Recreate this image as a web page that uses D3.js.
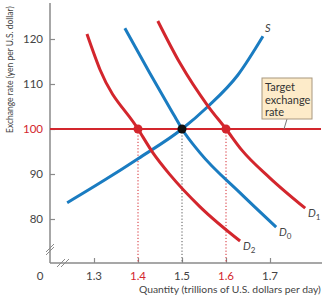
<!DOCTYPE html>
<html><head><meta charset="utf-8">
<script src="https://cdn.jsdelivr.net/npm/d3@7"></script>
<style>body{margin:0;background:#fff}svg{display:block}</style>
</head><body>
<svg id="c" width="325" height="300"></svg>
<script>
const yTicks = [80, 90, 100, 110, 120];
const xTicks = [1.3, 1.4, 1.5, 1.6, 1.7];
const targetRate = 100;
const equilibria = [{q:1.4, r:100, c:"red"}, {q:1.5, r:100, c:"black"}, {q:1.6, r:100, c:"red"}];
const supplyS = [[1.239,83.6],[1.325,88.7],[1.4,93.4],[1.5,100],[1.559,105.0],[1.627,112.0],[1.684,120.6]];
const demandD0 = [[1.370,122.4],[1.427,112.4],[1.484,102.7],[1.5,100],[1.541,94.7],[1.632,85.8],[1.714,78.2]];
const demandD1 = [[1.445,124.0],[1.495,114.7],[1.559,105.1],[1.6,100],[1.636,95.3],[1.700,89.1],[1.780,82.4]];
const demandD2 = [[1.284,121.1],[1.314,113.1],[1.4,100],[1.434,94.7],[1.473,89.8],[1.541,82.7],[1.632,75.1]];

const RED = "#d3262d", BLUE = "#1a7cc1", AX = "#8a8a8a", TXT = "#444";
const FONT = "Lato, 'Open Sans', sans-serif";
const svg = d3.select("#c");
const x = d3.scaleLinear().domain([1.3, 1.7]).range([94, 270]);
const y = d3.scaleLinear().domain([80, 120]).range([219, 39]);
const x0 = 50, yBase = 263;

// axes
svg.append("line").attr("x1",x0).attr("x2",x0).attr("y1",3).attr("y2",yBase).attr("stroke",AX).attr("stroke-width",1.5);
svg.append("line").attr("x1",x0).attr("x2",322).attr("y1",yBase).attr("y2",yBase).attr("stroke",AX).attr("stroke-width",1.5);
// y ticks
const yAxis = d3.axisRight(y).tickValues(yTicks).tickSize(5).tickFormat("");
const gy = svg.append("g").attr("transform",`translate(${x0},0)`).call(yAxis);
gy.select(".domain").remove();
gy.selectAll("line").attr("stroke",AX).attr("stroke-width",1.2);
svg.selectAll(".ylab").data(yTicks).enter().append("text")
  .attr("x",43).attr("y",d=>y(d)+4).attr("text-anchor","end")
  .attr("font-family",FONT).attr("font-size",11.5)
  .attr("fill",d=>d===targetRate?RED:TXT).text(d=>d);
// x ticks
const xAxis = d3.axisTop(x).tickValues(xTicks).tickSize(5).tickFormat("");
const gx = svg.append("g").attr("transform",`translate(0,${yBase})`).call(xAxis);
gx.select(".domain").remove();
gx.selectAll("line").attr("stroke",AX).attr("stroke-width",1.2);
svg.selectAll(".xlab").data(xTicks).enter().append("text")
  .attr("x",d=>x(d)).attr("y",280).attr("text-anchor","middle")
  .attr("font-family",FONT).attr("font-size",11.5)
  .attr("fill",d=>(d===1.4||d===1.6)?RED:TXT).text(d=>d.toFixed(1));
svg.append("text").attr("x",40).attr("y",280).attr("text-anchor","middle")
  .attr("font-family",FONT).attr("font-size",11.5).attr("fill",TXT).text("0");
// breaks
[0,-3].forEach(o=>{
  svg.append("line").attr("x1",46).attr("y1",255+o).attr("x2",54).attr("y2",247+o).attr("stroke",AX).attr("stroke-width",1);
});
[0,4].forEach(o=>{
  svg.append("line").attr("x1",57+o).attr("y1",267).attr("x2",65+o).attr("y2",259).attr("stroke",AX).attr("stroke-width",1);
});
// axis titles
const yTitle = svg.append("text")
  .attr("font-family",FONT).attr("font-size",10).attr("fill",TXT)
  .text("Exchange rate (yen per U.S. dollar)");
const natW = yTitle.node().getComputedTextLength();
const sc = Math.min(1, 127 / natW);
yTitle.attr("transform",`translate(13,133) rotate(-90) scale(${sc},1)`);
const xTitle = svg.append("text")
  .attr("font-family",FONT).attr("font-size",10).attr("fill",TXT)
  .text("Quantity (trillions of U.S. dollars per day)");
const natW2 = xTitle.node().getComputedTextLength();
const sc2 = 182 / natW2;
xTitle.attr("transform",`translate(${321 - 182},293) scale(${sc2},1)`);

// dotted verticals
equilibria.forEach(e=>{
  svg.append("line").attr("x1",x(e.q)).attr("x2",x(e.q)).attr("y1",y(e.r)).attr("y2",yBase)
    .attr("stroke",e.c==="red"?RED:"#555").attr("stroke-width",1).attr("stroke-dasharray","1.2,2");
});
// target line
svg.append("line").attr("x1",x0).attr("x2",321).attr("y1",y(targetRate)).attr("y2",y(targetRate))
  .attr("stroke",RED).attr("stroke-width",2);

const line = d3.line().x(d=>x(d[0])).y(d=>y(d[1])).curve(d3.curveMonotoneX);
[[supplyS,BLUE],[demandD0,BLUE],[demandD1,RED],[demandD2,RED]].forEach(([d,c])=>{
  svg.append("path").attr("d",line(d)).attr("fill","none").attr("stroke",c).attr("stroke-width",3);
});
// dots
equilibria.forEach(e=>{
  svg.append("circle").attr("cx",x(e.q)).attr("cy",y(e.r)).attr("r",4.5)
    .attr("fill",e.c==="red"?RED:"#111");
});

// curve labels
function curveLabel(px,py,sub){
  const t = svg.append("text").attr("x",px).attr("y",py).attr("font-family",FONT)
    .attr("font-size",11).attr("font-style","italic").attr("fill",TXT);
  t.append("tspan").text(sub===null?"S":"D");
  if(sub!==null) t.append("tspan").attr("dy",3).attr("font-size",8).attr("font-style","normal").text(sub);
}
curveLabel(265,32,null);
curveLabel(308,217,"1");
curveLabel(279,236,"0");
curveLabel(243,250,"2");

// target box
svg.append("line").attr("x1",287).attr("y1",119).attr("x2",284).attr("y2",y(targetRate)).attr("stroke","#777").attr("stroke-width",1);
svg.append("rect").attr("x",262).attr("y",78).attr("width",50).attr("height",41)
  .attr("fill","#fdebc9").attr("stroke","#a8977e").attr("stroke-width",1);
["Target","exchange","rate"].forEach((s,i)=>{
  svg.append("text").attr("x",265).attr("y",91+i*12.5).attr("font-family",FONT)
    .attr("font-size",11).attr("fill","#333").text(s);
});
</script>
</body></html>
